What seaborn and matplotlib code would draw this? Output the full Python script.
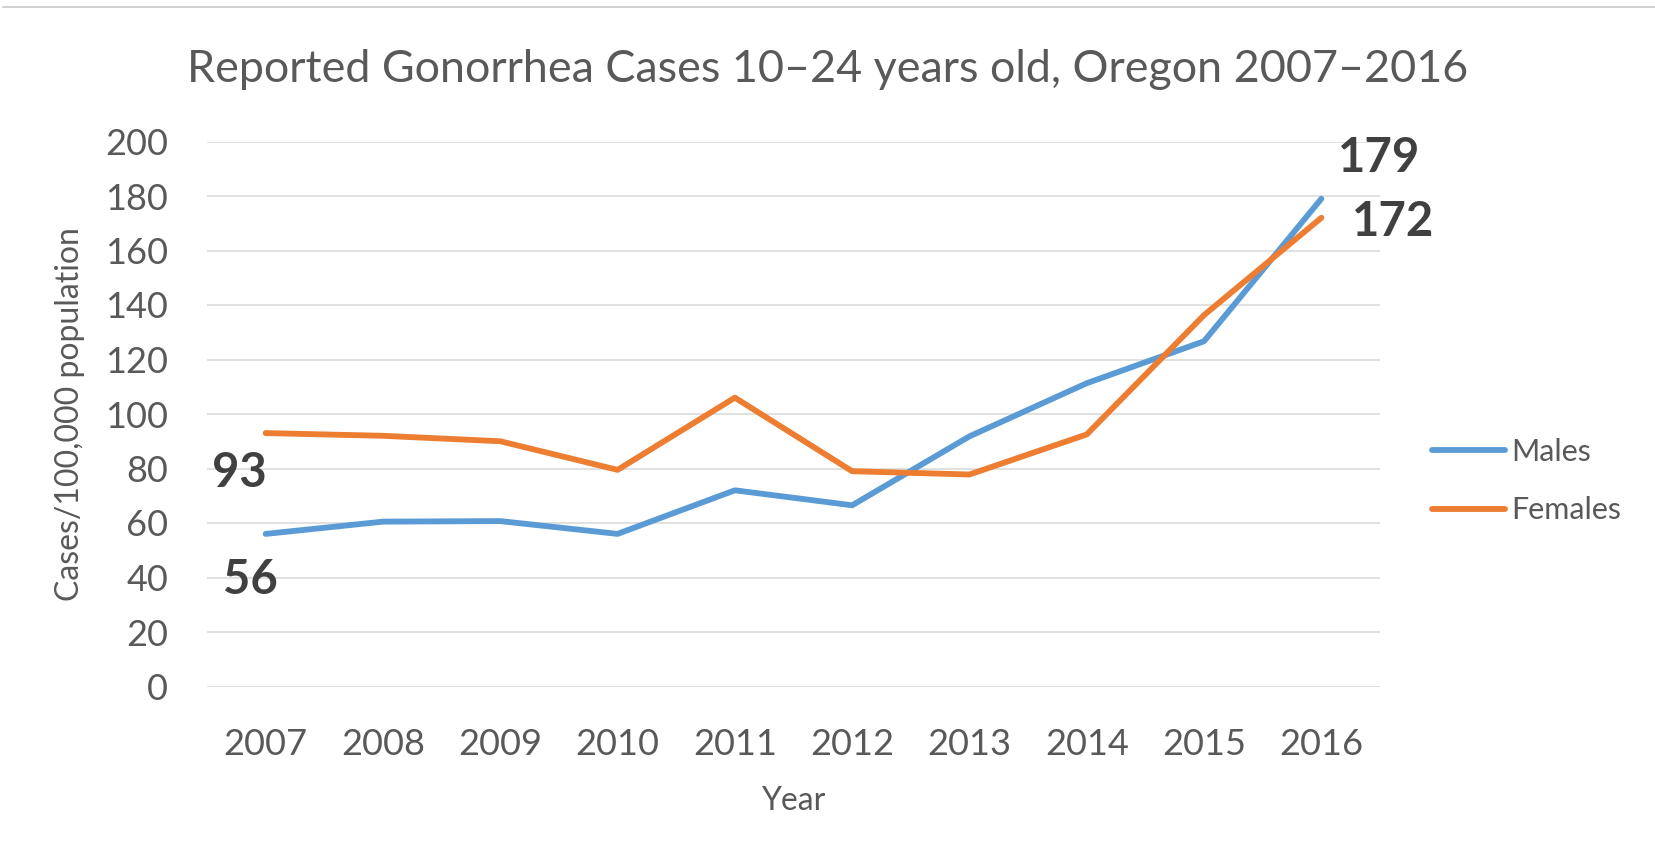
import pandas as pd
import matplotlib.pyplot as plt
import seaborn as sns

# DATA
years = [2007, 2008, 2009, 2010, 2011, 2012, 2013, 2014, 2015, 2016]
males = [56, 60.5, 60.7, 56, 72, 66.5, 91.8, 111.3, 126.7, 179]
females = [93, 92, 90, 79.5, 106, 79, 77.8, 92.5, 136.3, 172]
series_names = ["Males", "Females"]
series_colors = ["#5B9BD5", "#ED7D31"]
y_ticks = [0, 20, 40, 60, 80, 100, 120, 140, 160, 180, 200]

title = "Reported Gonorrhea Cases 10\u201324 years old, Oregon 2007\u20132016"
x_title = "Year"
y_title = "Cases/100,000 population"

df = pd.DataFrame({
    "Year": years * 2,
    "Rate": males + females,
    "Sex": ["Males"] * len(years) + ["Females"] * len(years),
})

sns.set_style("white")
plt.rcParams['font.family'] = ['Lato', 'DejaVu Sans']

fig = plt.figure(figsize=(16.56, 8.64), dpi=100)
ax = fig.add_axes([207 / 1656, 1 - 686.5 / 864, 1173 / 1656, 545 / 864])

for name, color in zip(series_names, series_colors):
    sns.lineplot(data=df[df["Sex"] == name], x="Year", y="Rate", color=color,
                 linewidth=4.2, label=name, ax=ax, errorbar=None,
                 solid_capstyle="round")

ax.set_xlim(years[0] - 0.5, years[-1] + 0.5)
ax.set_ylim(y_ticks[0], y_ticks[-1])
ax.set_xticks(years)
ax.set_yticks(y_ticks)
ax.grid(axis="y", color="#d9d9d9", linewidth=1.1)
ax.set_axisbelow(True)
sns.despine(ax=ax, left=True, bottom=True)

ax.tick_params(axis="y", length=0, pad=28, labelsize=26, labelcolor="#595959")
ax.tick_params(axis="x", length=0, pad=30, labelsize=26, labelcolor="#595959")

ax.set_xlabel(x_title, fontsize=23, color="#595959")
ax.set_ylabel(y_title, fontsize=23, color="#595959")
ax.xaxis.set_label_coords(0.5, -0.182)
ax.yaxis.set_label_coords(-0.104, 0.5)

fig.suptitle(title, x=0.5, y=1 - 49 / 864, va="top", fontsize=32.3, color="#595959")

# end-point labels
labels = [
    (years[0], females[0], -26, -40),
    (years[0], males[0], -15, -46),
    (years[-1], males[-1], 58, 41),
    (years[-1], females[-1], 72, -4),
]
for x, v, dx, dy in labels:
    ax.annotate(f"{v:.0f}", xy=(x, v), xytext=(dx, dy), textcoords="offset pixels",
                ha="center", va="center", fontsize=34, fontweight="bold",
                color="#404040")

leg = ax.legend(loc="center left", bbox_to_anchor=(1432 / 1656, 1 - 481 / 864),
                bbox_transform=fig.transFigure, frameon=False, fontsize=22,
                handlelength=2.4, handletextpad=0.2, labelspacing=1.0,
                borderpad=0, borderaxespad=0)
for t in leg.get_texts():
    t.set_color("#595959")

# frame line of the screenshot
fig.add_artist(plt.Line2D([0.002, 1], [1 - 7 / 864, 1 - 7 / 864],
                          color="#c8c8c8", linewidth=1.2, transform=fig.transFigure))

fig.savefig("out.png", dpi=100)
